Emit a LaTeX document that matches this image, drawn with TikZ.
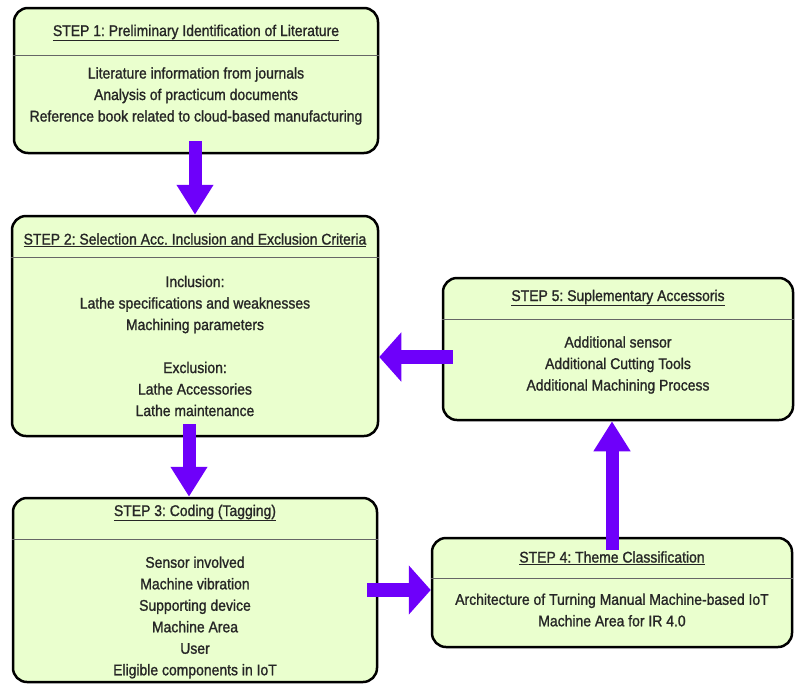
\documentclass[tikz,border=0pt]{standalone}
\usepackage{fontspec}
\setmainfont{Liberation Sans}[FakeStretch=0.9,FakeBold=1.2]
\usetikzlibrary{arrows.meta}
\definecolor{boxfill}{RGB}{234,255,206}
\definecolor{flowcol}{RGB}{110,0,250}
\frenchspacing

\begin{document}
\begin{tikzpicture}[x=1pt,y=-1pt,
    stepbox/.style={draw,line width=2.5pt,rounded corners=14pt,fill=boxfill,inner sep=0pt},
    steptitle/.style={text=black!85,font=\fontsize{15.5}{21.5}\selectfont},
    stepbody/.style={text=black!85,align=center,font=\fontsize{15.5}{21.5}\selectfont},
    sepline/.style={draw=black!60,line width=0.8pt},
    vflow/.style={draw=flowcol,line width=13pt,shorten <=-13pt,-{Triangle[width=35pt,length=30pt]}},
    hflow/.style={draw=flowcol,line width=14pt,shorten <=-11pt,-{Triangle[width=48pt,length=22pt]}}]
  \useasboundingbox (0,0) rectangle (795,686);
  % boxes
  \node[stepbox,minimum width=364pt,minimum height=145pt] (b1) at (196,80.5) {};
  \node[stepbox,minimum width=366pt,minimum height=220pt] (b2) at (195,326) {};
  \node[stepbox,minimum width=364pt,minimum height=184pt] (b3) at (195,590) {};
  \node[stepbox,minimum width=360pt,minimum height=109pt] (b4) at (612,592.5) {};
  \node[stepbox,minimum width=350pt,minimum height=142pt] (b5) at (618,349) {};
  % header lines
  \draw[sepline] (b1.west |- 0,55) -- (b1.east |- 0,55);
  \draw[sepline] (b2.west |- 0,257) -- (b2.east |- 0,257);
  \draw[sepline] (b3.west |- 0,539) -- (b3.east |- 0,539);
  \draw[sepline] (b4.west |- 0,578) -- (b4.east |- 0,578);
  \draw[sepline] (b5.west |- 0,319) -- (b5.east |- 0,319);
  % titles
  \node[steptitle] (t1) at (196,33) {\underline{STEP 1: Preliminary Identification of Literature}};
  \node[steptitle] (t2) at (195,240) {\underline{STEP 2: Selection Acc. Inclusion and Exclusion Criteria}};
  \node[steptitle] (t3) at (195,513) {\underline{STEP 3: Coding (Tagging)}};
  \node[steptitle] (t4) at (612,558) {\underline{STEP 4: Theme Classification}};
  \node[steptitle] (t5) at (618,298) {\underline{STEP 5: Suplementary Accessoris}};
  % contents
  \node[stepbody] (c1) at (196,96) {Literature information from journals\\Analysis of practicum documents\\Reference book related to cloud-based manufacturing};
  \node[stepbody] (c2) at (195,346) {Inclusion:\\Lathe specifications and weaknesses\\Machining parameters\\[21.5pt]Exclusion:\\Lathe Accessories\\Lathe maintenance};
  \node[stepbody] (c3) at (195,617.5) {Sensor involved\\Machine vibration\\Supporting device\\Machine Area\\User\\Eligible components in IoT};
  \node[stepbody] (c4) at (612,610) {Architecture of Turning Manual Machine-based IoT\\Machine Area for IR 4.0};
  \node[stepbody] (c5) at (618,365) {Additional sensor\\Additional Cutting Tools\\Additional Machining Process};
  % flow arrows
  \draw[vflow] ([xshift=-1pt]b1.south) -- ([xshift=-1pt]b1.south |- b2.north);
  \draw[vflow] ([xshift=-6pt]b2.south) -- ([xshift=-6pt]b2.south |- b3.north);
  \draw[hflow] (b3.east) -- (b3.east -| b4.west);
  \draw[vflow] (b4.north) -- (b4.north |- b5.south);
  \draw[hflow] ([yshift=-8pt]b5.west) -- ([yshift=-8pt]b5.west -| b2.east);
\end{tikzpicture}
\end{document}
